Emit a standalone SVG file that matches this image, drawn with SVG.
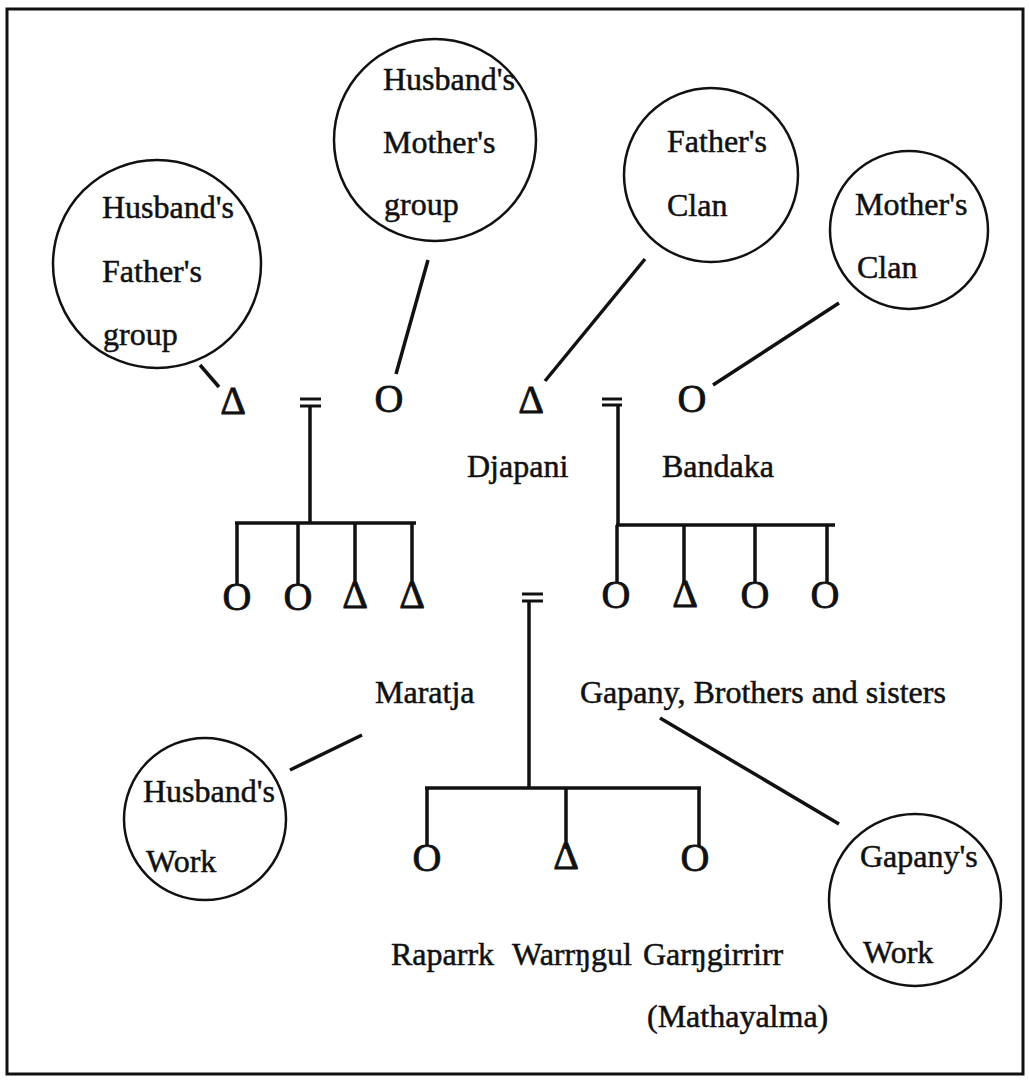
<svg xmlns="http://www.w3.org/2000/svg" width="1029" height="1083" viewBox="0 0 1029 1083">
<style>
text{font-family:"Liberation Serif","Times New Roman",serif;fill:#111;stroke:#111;stroke-width:0.5;}
.lbl{font-size:32px;}
.sym{font-size:40px;text-anchor:middle;stroke-width:0.8;}
.ring{fill:none;stroke:#111;stroke-width:2.5;}
.ln{stroke:#111;stroke-width:3.5;fill:none;stroke-linecap:butt;}
.eq{stroke:#111;stroke-width:3;fill:none;}
</style>
<rect x="0" y="0" width="1029" height="1083" fill="#fff"/>
<rect x="7" y="9" width="1016" height="1065" fill="none" stroke="#111" stroke-width="3"/>

<g id="connectors">
  <line class="ln" x1="200" y1="365" x2="219" y2="387"/>
  <line class="ln" x1="428" y1="260" x2="396" y2="374"/>
  <line class="ln" x1="645" y1="259" x2="545" y2="381"/>
  <line class="ln" x1="839" y1="303" x2="713" y2="385"/>
  <line class="ln" x1="290" y1="770" x2="362" y2="735"/>
  <line class="ln" x1="660" y1="718" x2="839" y2="824"/>
  <!-- marriage 1 -->
  <line class="eq" x1="300" y1="399" x2="321" y2="399"/>
  <line class="eq" x1="300" y1="406" x2="321" y2="406"/>
  <line class="ln" x1="310" y1="406" x2="310" y2="523"/>
  <line class="ln" x1="235" y1="523" x2="416" y2="523"/>
  <line class="ln" x1="237" y1="523" x2="237" y2="584"/>
  <line class="ln" x1="298" y1="523" x2="298" y2="584"/>
  <line class="ln" x1="355" y1="523" x2="355" y2="586"/>
  <line class="ln" x1="412" y1="523" x2="412" y2="586"/>
  <!-- marriage 2 -->
  <line class="eq" x1="602" y1="399" x2="622" y2="399"/>
  <line class="eq" x1="602" y1="405" x2="622" y2="405"/>
  <line class="ln" x1="618" y1="405" x2="618" y2="525"/>
  <line class="ln" x1="616" y1="525" x2="835" y2="525"/>
  <line class="ln" x1="617" y1="525" x2="617" y2="583"/>
  <line class="ln" x1="684" y1="525" x2="684" y2="585"/>
  <line class="ln" x1="755" y1="525" x2="755" y2="583"/>
  <line class="ln" x1="827" y1="525" x2="827" y2="583"/>
  <!-- marriage 3 -->
  <line class="eq" x1="522" y1="594" x2="543" y2="594"/>
  <line class="eq" x1="522" y1="601" x2="543" y2="601"/>
  <line class="ln" x1="529" y1="601" x2="529" y2="788"/>
  <line class="ln" x1="425" y1="788" x2="701" y2="788"/>
  <line class="ln" x1="427" y1="788" x2="427" y2="846"/>
  <line class="ln" x1="566" y1="788" x2="566" y2="849"/>
  <line class="ln" x1="699" y1="788" x2="699" y2="846"/>
</g>

<g id="husbands-father-group">
  <circle class="ring" cx="157" cy="264" r="104"/>
  <text class="lbl" x="102" y="218">Husband's</text>
  <text class="lbl" x="102" y="282">Father's</text>
  <text class="lbl" x="103" y="345">group</text>
</g>
<g id="husbands-mother-group">
  <circle class="ring" cx="435" cy="140" r="101"/>
  <text class="lbl" x="383" y="90">Husband's</text>
  <text class="lbl" x="383" y="153">Mother's</text>
  <text class="lbl" x="384" y="215">group</text>
</g>
<g id="fathers-clan">
  <circle class="ring" cx="711" cy="175" r="87"/>
  <text class="lbl" x="667" y="152">Father's</text>
  <text class="lbl" x="667" y="216">Clan</text>
</g>
<g id="mothers-clan">
  <circle class="ring" cx="909" cy="230" r="79"/>
  <text class="lbl" x="855" y="215">Mother's</text>
  <text class="lbl" x="857" y="278">Clan</text>
</g>
<g id="husbands-work">
  <circle class="ring" cx="205" cy="819" r="81"/>
  <text class="lbl" x="143" y="802">Husband's</text>
  <text class="lbl" x="146" y="872">Work</text>
</g>
<g id="gapanys-work">
  <circle class="ring" cx="915" cy="900" r="86"/>
  <text class="lbl" x="860" y="867">Gapany's</text>
  <text class="lbl" x="863" y="963">Work</text>
</g>

<g id="husbands-father">
  <text class="sym" x="233" y="414">Δ</text>
</g>
<g id="husbands-mother">
  <text class="sym" x="389" y="412">O</text>
</g>
<g id="father-djapani">
  <text class="sym" x="531" y="413">Δ</text>
  <text class="lbl" x="467" y="477">Djapani</text>
</g>
<g id="mother-bandaka">
  <text class="sym" x="692" y="412">O</text>
  <text class="lbl" x="662" y="477">Bandaka</text>
</g>

<g id="maratja-siblings">
  <text class="sym" x="237" y="610">O</text>
  <text class="sym" x="298" y="610">O</text>
  <text class="sym" x="355" y="608">Δ</text>
  <text class="sym" x="412" y="608">Δ</text>
  <text class="lbl" x="375" y="703">Maratja</text>
</g>
<g id="gapany-siblings">
  <text class="sym" x="616" y="608">O</text>
  <text class="sym" x="685" y="607">Δ</text>
  <text class="sym" x="755" y="608">O</text>
  <text class="sym" x="825" y="608">O</text>
  <text class="lbl" x="580" y="703">Gapany, Brothers and sisters</text>
</g>

<g id="children">
  <text class="sym" x="427" y="871">O</text>
  <text class="sym" x="566" y="869">Δ</text>
  <text class="sym" x="695" y="871">O</text>
  <text class="lbl" y="965"><tspan x="391">Raparrk</tspan><tspan x="512">Warrŋgul</tspan><tspan x="643">Garŋgirrirr</tspan></text>
  <text class="lbl" x="647" y="1027">(Mathayalma)</text>
</g>
</svg>
